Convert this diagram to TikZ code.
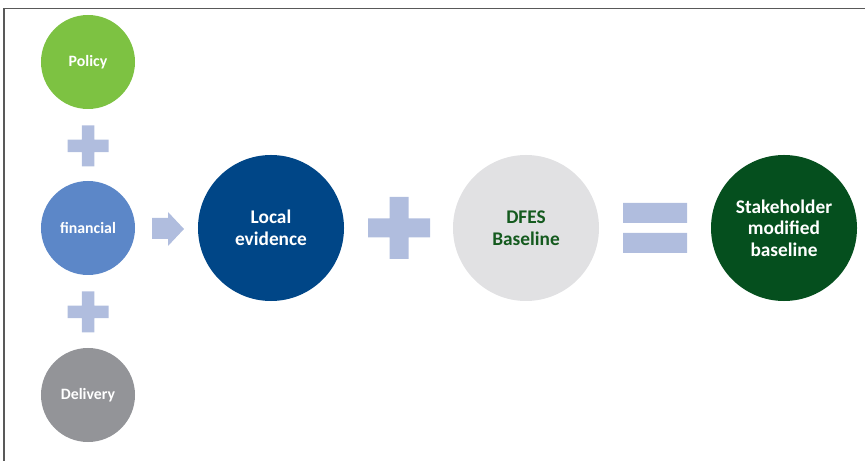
\documentclass[tikz,border=0pt]{standalone}
\usepackage{fontspec}
\setmainfont{Carlito}
\usetikzlibrary{calc}
\definecolor{ColPolicy}{RGB}{125,194,66}
\definecolor{ColFin}{RGB}{92,135,200}
\definecolor{ColDel}{RGB}{147,148,152}
\definecolor{ColLocal}{RGB}{0,70,135}
\definecolor{ColDFES}{RGB}{225,225,227}
\definecolor{ColStake}{RGB}{5,79,30}
\definecolor{ColSign}{RGB}{176,189,222}
\definecolor{ColDFEStext}{RGB}{20,90,30}
\tikzset{
  disc/.style={circle,fill=#1,inner sep=0,outer sep=0,text=white,align=center},
  smalldisc/.style={disc=#1,minimum size=2.82cm,font=\fontsize{13.5}{16}\selectfont\bfseries},
  bigdisc/.style={disc=#1,minimum size=4.38cm,font=\fontsize{16.5}{18.5}\selectfont\bfseries},
  sign/.style={fill=ColSign}
}
\newcommand\plussign[4]{% center x, center y, arm, thickness
  \fill[sign] ($(#1,#2)+(-#3/2,-#4/2)$) rectangle ($(#1,#2)+(#3/2,#4/2)$)
              ($(#1,#2)+(-#4/2,-#3/2)$) rectangle ($(#1,#2)+(#4/2,#3/2)$);}
\begin{document}
\begin{tikzpicture}[x=0.03cm,y=-0.03cm]
\useasboundingbox (0,0) rectangle (865,461);
% frame
\draw[line width=1.1pt,gray!70!black] (865,8.5) -- (4,8.5) -- (4,461);
% left column
\node[smalldisc=ColPolicy] (policy) at (88,62) {Policy};
\node[smalldisc=ColFin] (financial) at (88,228) {financial};
\node[smalldisc=ColDel] (delivery) at (88,395) {Delivery};
\plussign{88}{146}{41}{12.5}
\plussign{88}{312}{41}{12.5}
% arrow
\fill[sign] (152,218)--(168,218)--(168,212)--(184,229)--(168,246)--(168,239)--(152,239)--cycle;
% main row
\node[bigdisc=ColLocal] (local) at (271,228) {Local\\evidence};
\plussign{399}{228}{62}{19}
\node[bigdisc=ColDFES,text=ColDFEStext] (dfes) at (526,228) {DFES\\Baseline};
\fill[sign] (623,203) rectangle (687,223) (623,233) rectangle (687,253);
\node[bigdisc=ColStake] (stake) at (784,228) {Stakeholder\\modified\\baseline};
\end{tikzpicture}
\end{document}
